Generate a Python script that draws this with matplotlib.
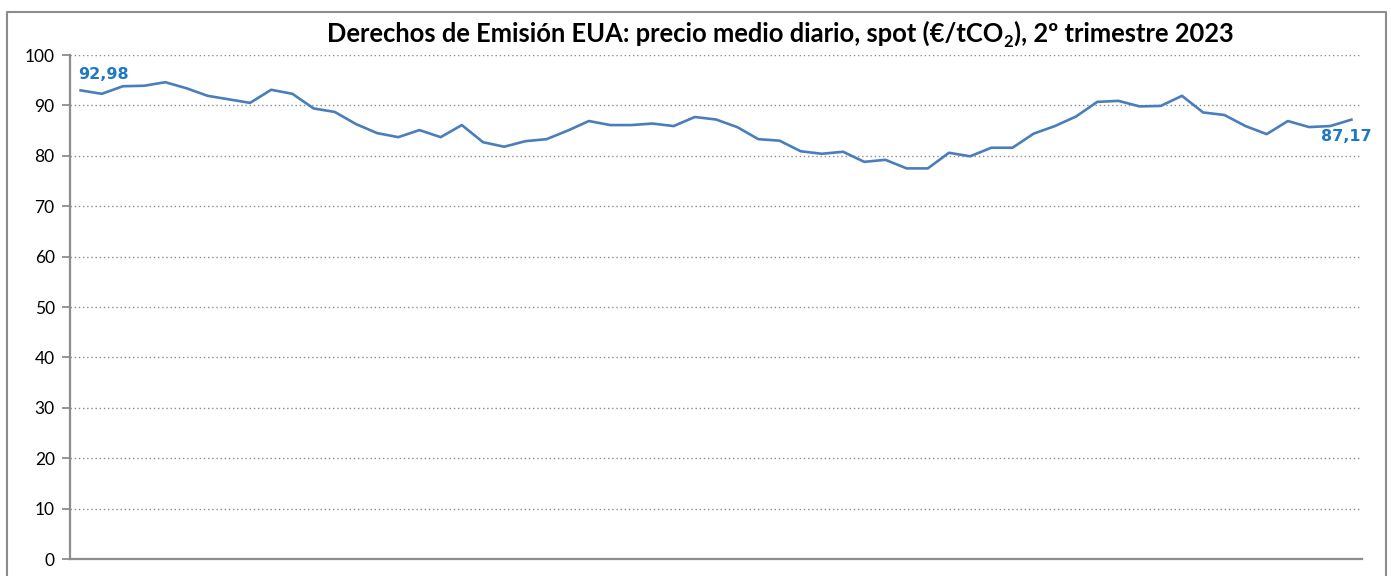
import matplotlib
matplotlib.use("Agg")
import matplotlib.pyplot as plt
from matplotlib.lines import Line2D
from matplotlib.transforms import offset_copy

prices = [92.98, 92.3, 93.8, 93.9, 94.6, 93.4, 91.9, 91.2, 90.5, 93.1,
          92.3, 89.4, 88.7, 86.3, 84.5, 83.7, 85.1, 83.7, 86.1, 82.7,
          81.8, 82.9, 83.3, 85.0, 86.9, 86.1, 86.1, 86.4, 85.9, 87.7,
          87.2, 85.7, 83.3, 83.0, 80.9, 80.4, 80.8, 78.8, 79.2, 77.5,
          77.5, 80.6, 79.9, 81.6, 81.6, 84.4, 85.9, 87.8, 90.7, 90.9,
          89.8, 89.9, 91.9, 88.6, 88.1, 85.9, 84.3, 86.9, 85.7, 85.9,
          87.17]
days = list(range(len(prices)))
yticks = list(range(0, 101, 10))
first_label = "92,98"
last_label = "87,17"
title_a = "Derechos de Emisión EUA: precio medio diario, spot (€/tCO"
title_sub = "2"
title_b = "), 2º trimestre 2023"

W, H = 1391, 576
fig = plt.figure(figsize=(W / 100, H / 100), dpi=100)
ax = fig.add_axes([70 / W, 1 - 559 / H, (1362 - 70) / W, (559 - 55) / H])

grey = "#8c8c8c"
ax.plot(days, prices, color="#4a7ebb", lw=1.9, solid_joinstyle="round", zorder=3)
ax.set_xlim(-0.5, len(prices) - 0.5)
ax.set_ylim(0, 100)
ax.set_yticks(yticks)
ax.set_xticks([])
for y in yticks[1:]:
    ax.axhline(y, color=grey, lw=1.0, ls=(0, (1, 2)), zorder=1)
for s in ["top", "right"]:
    ax.spines[s].set_visible(False)
for s in ["left", "bottom"]:
    ax.spines[s].set_color(grey)
    ax.spines[s].set_linewidth(1.6)
ax.tick_params(axis="y", direction="out", length=6, width=1.3, color=grey,
               pad=5, labelsize=12.5)
for lab in ax.get_yticklabels():
    lab.set_fontfamily("Lato")

ann_color = "#1f78c6"
ax.annotate(first_label, (days[0], prices[0]), xytext=(-2, 6), textcoords="offset points",
            ha="left", va="bottom", color=ann_color, fontsize=11.5, fontweight="bold",
            family="DejaVu Sans")
ax.annotate(last_label, (days[-1], prices[-1]), xytext=(-22, -7), textcoords="offset points",
            ha="left", va="top", color=ann_color, fontsize=11.5, fontweight="bold",
            family="DejaVu Sans")

# title with subscript
fs = 18.4
t1 = fig.text(327 / W, 1 - 42 / H, title_a, fontsize=fs, fontweight="bold",
              family="Lato", ha="left", va="baseline")
fig.canvas.draw()
r = fig.canvas.get_renderer()
bb = t1.get_window_extent(r)
t2 = fig.text(bb.x1 / W, 1 - 42 / H, title_sub, fontsize=fs * 0.65, fontweight="bold",
              family="Lato", ha="left", va="baseline",
              transform=offset_copy(fig.transFigure, fig=fig, x=0.5, y=-5, units="dots"))
fig.canvas.draw()
bb2 = t2.get_window_extent(r)
t3 = fig.text((bb2.x1 + 0.5) / W, 1 - 42 / H, title_b, fontsize=fs, fontweight="bold",
              family="Lato", ha="left", va="baseline")

# outer frame
fx = [7 / W, 7 / W, 1386 / W, 1386 / W]
fy = [-0.05, 1 - 12 / H, 1 - 12 / H, -0.05]
fig.add_artist(Line2D(fx, fy, transform=fig.transFigure, color=grey, lw=1.5, clip_on=False))

fig.savefig("out.png", dpi=100)
